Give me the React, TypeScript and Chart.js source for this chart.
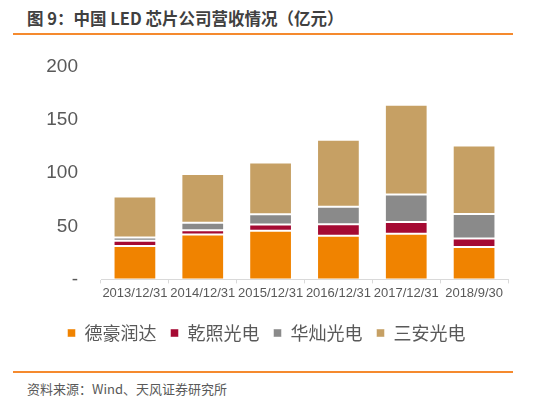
import React, { useEffect, useRef } from "react";
import { Chart, registerables } from "chart.js";

Chart.register(...registerables);

const categories = ["2013/12/31", "2014/12/31", "2015/12/31", "2016/12/31", "2017/12/31", "2018/9/30"];
const dehao = [31.5, 42.3, 45.8, 41, 43, 30.6];
const qianzhao = [5, 4, 6, 11, 11, 8];
const huacan = [3, 7, 9.5, 16.5, 26, 23];
const sanan = [38.5, 46, 48.7, 63, 84.5, 64.5];
const yTicks = [0, 50, 100, 150, 200];

const seriesNames = ["德豪润达", "乾照光电", "华灿光电", "三安光电"];
const seriesColors = ["#F08300", "#A50A33", "#8A8A8A", "#C6A064"];

const FONT = "'Liberation Sans', Arial, 'Noto Sans CJK SC', sans-serif";

export default function App() {
  const ref = useRef<HTMLCanvasElement>(null);
  useEffect(() => {
    if (!ref.current) return;
    const values = [dehao, qianzhao, huacan, sanan];
    const chart = new Chart(ref.current, {
      type: "bar",
      data: {
        labels: categories,
        datasets: values.map((v, i) => ({
          label: seriesNames[i],
          data: v,
          backgroundColor: seriesColors[i],
          borderColor: "rgba(255,255,255,0.45)",
          borderWidth: 1,
          borderSkipped: false,
          categoryPercentage: 1,
          barPercentage: 0.63,
        })),
      },
      options: {
        animation: false,
        responsive: false,
        devicePixelRatio: 1,
        layout: { padding: { left: 25, right: 46, top: 17, bottom: 8 } },
        plugins: {
          tooltip: { enabled: false },
          legend: {
            position: "bottom",
            labels: {
              boxWidth: 8,
              boxHeight: 8,
              padding: 14,
              color: "#595959",
              font: { size: 18, family: "'Noto Sans CJK SC', sans-serif" },
            },
          },
        },
        scales: {
          x: {
            stacked: true,
            offset: true,
            grid: { display: true, drawOnChartArea: false, offset: true, tickLength: 4, color: "#D9D9D9" },
            border: { display: true, color: "#D9D9D9" },
            afterFit: (s: any) => {
              s.height += 7;
            },
            ticks: {
              color: "#595959",
              padding: 2,
              maxRotation: 0,
              autoSkip: false,
              font: { size: 13, family: FONT },
            },
          },
          y: {
            stacked: true,
            min: 0,
            max: 200,
            afterBuildTicks: (s: any) => {
              s.ticks = yTicks.map((v) => ({ value: v }));
            },
            afterFit: (s: any) => {
              s.width = 76;
              s.paddingTop = 0;
              s.paddingBottom = 0;
            },
            grid: { display: false, drawTicks: false },
            border: { display: false },
            ticks: {
              color: "#595959",
              padding: 23,
              font: { size: 19, family: FONT },
              callback: (v: any) => (v === 0 ? "-" : String(v)),
            },
          },
        },
      },
    });
    return () => chart.destroy();
  }, []);

  return (
    <div style={{ position: "fixed", left: 0, top: 0, width: 554, height: 402, background: "#fff", overflow: "hidden" }}>
      <div
        style={{
          position: "absolute",
          left: 27,
          top: 7,
          fontFamily: "'Noto Sans CJK SC', sans-serif",
          fontWeight: "bold",
          fontSize: 16.5,
          color: "#404040",
          whiteSpace: "nowrap",
          lineHeight: "22px",
        }}
      >
        图 9：中国 LED 芯片公司营收情况（亿元）
      </div>
      <div style={{ position: "absolute", left: 13, top: 33, width: 500, height: 2, background: "#F58A2E" }} />
      <canvas ref={ref} width={554} height={310} style={{ position: "absolute", left: 0, top: 50, width: 554, height: 310 }} />
      <div style={{ position: "absolute", left: 13, top: 371, width: 500, height: 2, background: "#F58A2E" }} />
      <div
        style={{
          position: "absolute",
          left: 27,
          top: 379,
          fontFamily: "'Noto Sans CJK SC', sans-serif",
          fontSize: 13,
          color: "#595959",
          whiteSpace: "nowrap",
          lineHeight: "20px",
        }}
      >
        资料来源：Wind、天风证券研究所
      </div>
    </div>
  );
}
